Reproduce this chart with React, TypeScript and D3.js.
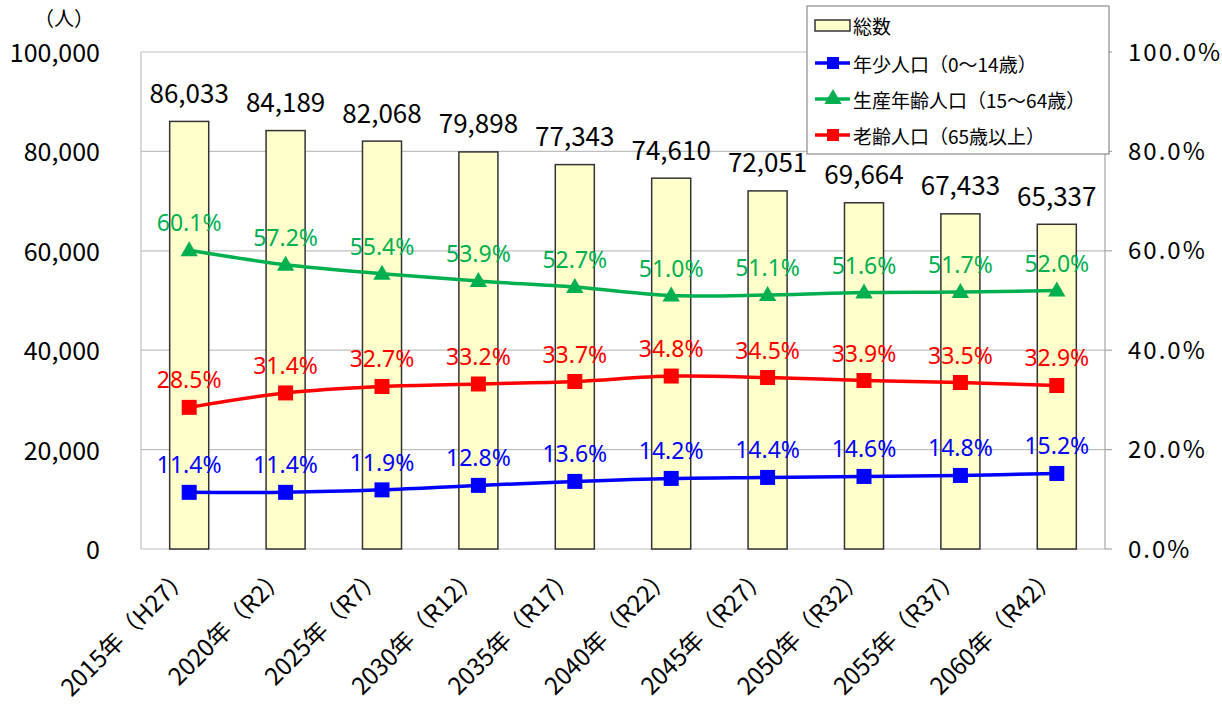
import React from "react";
import * as d3 from "d3";

const categories = [
  "2015年（H27）",
  "2020年（R2）",
  "2025年（R7）",
  "2030年（R12）",
  "2035年（R17）",
  "2040年（R22）",
  "2045年（R27）",
  "2050年（R32）",
  "2055年（R37）",
  "2060年（R42）",
];
const totals = [86033, 84189, 82068, 79898, 77343, 74610, 72051, 69664, 67433, 65337];
const youngPct = [11.4, 11.4, 11.9, 12.8, 13.6, 14.2, 14.4, 14.6, 14.8, 15.2];
const workingPct = [60.1, 57.2, 55.4, 53.9, 52.7, 51.0, 51.1, 51.6, 51.7, 52.0];
const elderlyPct = [28.5, 31.4, 32.7, 33.2, 33.7, 34.8, 34.5, 33.9, 33.5, 32.9];
const leftTicks = [0, 20000, 40000, 60000, 80000, 100000];
const rightTicks = [0, 20, 40, 60, 80, 100];
const legendLabels = ["総数", "年少人口（0～14歳）", "生産年齢人口（15～64歳）", "老齢人口（65歳以上）"];

const W = 1222;
const H = 711;
const JP = "'Noto Sans CJK JP', 'Noto Sans', sans-serif";
const PCT = "'Noto Sans', 'Open Sans', sans-serif";

const BLUE = "#0000FF";
const GREEN = "#00B050";
const RED = "#FF0000";

export default function App() {
  const left = 141;
  const right = 1105;
  const top = 52;
  const bottom = 549;

  const x = d3
    .scaleBand<string>()
    .domain(categories)
    .range([left, right])
    .paddingInner(0.595)
    .paddingOuter(0.2975);
  const bw = x.bandwidth();
  const cx = (c: string) => (x(c) as number) + bw / 2;
  const yL = d3.scaleLinear().domain([0, 100000]).range([bottom, top]);
  const yR = d3.scaleLinear().domain([0, 100]).range([bottom, top]);
  const fmt = d3.format(",");

  const series = [
    { name: "young", values: youngPct, color: BLUE, marker: "square" },
    { name: "working", values: workingPct, color: GREEN, marker: "triangle" },
    { name: "elderly", values: elderlyPct, color: RED, marker: "square" },
  ];

  const line = d3
    .line<number>()
    .x((_, i) => cx(categories[i]))
    .y((v) => yR(v))
    .curve(d3.curveCatmullRom.alpha(0.5));

  const tri = d3.symbol().type(d3.symbolTriangle).size(130);

  const marker = (kind: string, color: string, px: number, py: number, key: string | number) =>
    kind === "square" ? (
      <rect key={key} x={px - 7.5} y={py - 7.5} width={15} height={15} fill={color} />
    ) : (
      <path key={key} d={tri() as string} transform={`translate(${px},${py + 1})`} fill={color} />
    );

  return (
    <svg
      width={W}
      height={H}
      viewBox={`0 0 ${W} ${H}`}
      style={{ position: "absolute", left: 0, top: 0, background: "#fff" }}
    >
      {/* gridlines */}
      {leftTicks.map((t) => (
        <line key={"g" + t} x1={left} x2={right} y1={yL(t)} y2={yL(t)} stroke="#BFBFBF" strokeWidth={1.2} />
      ))}
      {/* axes */}
      <line x1={left} x2={left} y1={top} y2={bottom} stroke="#BFBFBF" strokeWidth={1.2} />
      <line x1={right} x2={right} y1={top} y2={bottom} stroke="#A6A6A6" strokeWidth={1.2} />
      {rightTicks.map((t) => (
        <line key={"rt" + t} x1={right} x2={right + 7} y1={yR(t)} y2={yR(t)} stroke="#A6A6A6" strokeWidth={1.2} />
      ))}

      {/* left axis labels */}
      {leftTicks.map((t) => (
        <text
          key={"lt" + t}
          x={100}
          y={yL(t) - 1}
          textAnchor="end"
          dominantBaseline="central"
          fontFamily={JP}
          fontSize={25}
          fill="#000"
        >
          {fmt(t)}
        </text>
      ))}
      <text x={64} y={17} textAnchor="middle" dominantBaseline="central" fontFamily={JP} fontSize={20}>
        （人）
      </text>

      {/* right axis labels */}
      {rightTicks.map((t) => (
        <text
          key={"rl" + t}
          x={1128}
          y={yR(t) - 2}
          textAnchor="start"
          dominantBaseline="central"
          fontFamily={JP}
          fontSize={24}
          letterSpacing={2}
          fill="#000"
        >
          {t.toFixed(1) + "%"}
        </text>
      ))}

      {/* bars */}
      {totals.map((v, i) => (
        <rect
          key={"b" + i}
          x={x(categories[i]) as number}
          y={yL(v)}
          width={bw}
          height={yL(0) - yL(v)}
          fill="#FFFFCC"
          stroke="#333"
          strokeWidth={1.5}
        />
      ))}
      {totals.map((v, i) => (
        <text
          key={"bl" + i}
          x={cx(categories[i])}
          y={yL(v) - 30}
          textAnchor="middle"
          dominantBaseline="central"
          fontFamily={JP}
          fontSize={26}
          fill="#000"
        >
          {fmt(v)}
        </text>
      ))}

      {/* lines */}
      {series.map((s) => (
        <g key={s.name}>
          <path d={line(s.values) as string} fill="none" stroke={s.color} strokeWidth={3.5} />
          {s.values.map((v, i) => marker(s.marker, s.color, cx(categories[i]), yR(v), i))}
          {s.values.map((v, i) => (
            <text
              key={"t" + i}
              x={cx(categories[i])}
              y={yR(v) - 28}
              textAnchor="middle"
              dominantBaseline="central"
              fontFamily={PCT}
              fontSize={23}
              fill={s.color}
            >
              {v.toFixed(1) + "%"}
            </text>
          ))}
        </g>
      ))}

      {/* x labels */}
      {categories.map((c) => {
        const px = cx(c) + 2;
        const py = 578;
        return (
          <text
            key={"x" + c}
            x={px}
            y={py}
            textAnchor="end"
            transform={`rotate(-45, ${px}, ${py})`}
            fontFamily={JP}
            fontSize={24}
            fill="#000"
          >
            {c}
          </text>
        );
      })}

      {/* legend */}
      <g>
        <rect x={807} y={6} width={302} height={148} fill="#fff" stroke="#8C8C8C" strokeWidth={1.2} />
        <rect x={815} y={20} width={35} height={11} fill="#FFFFCC" stroke="#333" strokeWidth={1.5} />
        <text x={853} y={25} dominantBaseline="central" fontFamily={JP} fontSize={19}>
          {legendLabels[0]}
        </text>
        {series.map((s, k) => {
          const ly = [63, 99, 135][k];
          return (
            <g key={"lg" + k}>
              <line x1={815} x2={850} y1={ly} y2={ly} stroke={s.color} strokeWidth={3.5} />
              {s.marker === "square" ? (
                <rect x={827} y={ly - 6} width={12} height={12} fill={s.color} />
              ) : (
                <path d={tri() as string} transform={`translate(833,${ly})`} fill={s.color} />
              )}
              <text x={853} y={ly} dominantBaseline="central" fontFamily={JP} fontSize={19}>
                {legendLabels[k + 1]}
              </text>
            </g>
          );
        })}
      </g>
    </svg>
  );
}
